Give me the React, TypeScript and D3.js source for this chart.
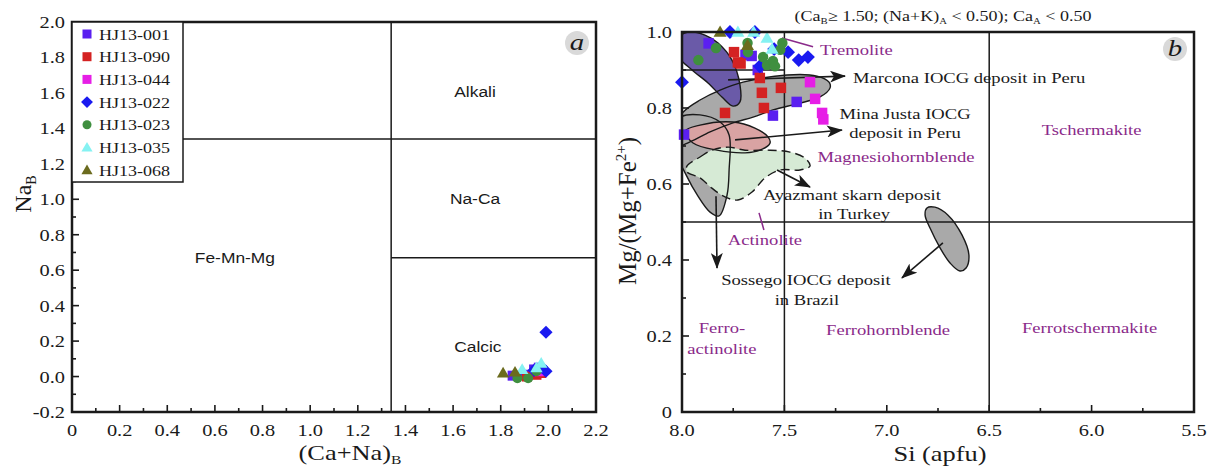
import React from 'react';
import * as d3 from 'd3';

const SX = 1.2; // the source figure is stretched a little horizontally
const SERIF = '"Liberation Serif", "Times New Roman", serif';
const SANS = '"Liberation Sans", Arial, sans-serif';
const INK = '#1a1a1a';
const PURPLE = '#8a2a8a';

// samples / legend
const samples = ['HJ13-001', 'HJ13-090', 'HJ13-044', 'HJ13-022', 'HJ13-023', 'HJ13-035', 'HJ13-068'];
const sampleColors = ['#5b1ff0', '#d42222', '#e61ee6', '#1a1af0', '#3f8f3f', '#85f2f2', '#6b6b1e'];
const sampleShapes = ['square', 'square', 'square', 'diamond', 'circle', 'triangle', 'triangle'];

// panel a: (Ca+Na)B vs NaB
const a001 = [[1.85, 0.005], [1.9, 0.01], [1.94, 0.04], [1.96, 0.05]];
const a090 = [[1.91, 0.0], [1.95, 0.01], [1.97, 0.02]];
const a044 = [[1.96, 0.03]];
const a022 = [[1.99, 0.25], [1.99, 0.03], [1.94, 0.035], [1.97, 0.055]];
const a023 = [[1.87, -0.01], [1.915, -0.01], [1.95, 0.03]];
const a035 = [[1.89, 0.04], [1.97, 0.075], [1.95, 0.05]];
const a068 = [[1.81, 0.02], [1.86, 0.025]];
const panelA = [a001, a090, a044, a022, a023, a035, a068];

// panel b: Si vs Mg/(Mg+Fe2+)
const b001 = [[7.87, 0.97], [7.69, 0.94], [7.66, 0.937], [7.63, 0.9], [7.44, 0.816], [7.556, 0.78], [7.99, 0.73]];
const b090 = [[7.746, 0.947], [7.727, 0.92], [7.714, 0.917], [7.62, 0.879], [7.61, 0.84], [7.517, 0.853], [7.6, 0.8], [7.79, 0.787]];
const b044 = [[7.375, 0.868], [7.35, 0.824], [7.316, 0.787], [7.31, 0.77]];
const b022 = [[7.766, 1.0], [7.644, 1.0], [7.482, 0.947], [7.43, 0.926], [7.385, 0.934], [8.0, 0.868], [7.55, 0.955], [7.62, 0.91]];
const b023 = [[7.834, 0.958], [7.92, 0.926], [7.68, 0.971], [7.678, 0.947], [7.604, 0.934], [7.585, 0.913], [7.556, 0.924], [7.546, 0.91], [7.52, 0.953], [7.51, 0.971]];
const b035 = [[7.727, 1.0], [7.65, 1.0], [7.585, 0.984], [7.56, 0.955]];
const b068 = [[7.814, 1.0], [7.68, 0.965]];
const panelB = [b001, b090, b044, b022, b023, b035, b068];

// classification boundaries
const aLines = [[[1.34, -0.2], [1.34, 2.0]], [[0, 1.34], [2.2, 1.34]], [[1.34, 0.67], [2.2, 0.67]]];
const bLines = [[[7.5, 0], [7.5, 1]], [[6.5, 0], [6.5, 1]], [[8, 0.5], [5.5, 0.5]], [[8, 0.9], [7.5, 0.9]]];

// deposit fields (outlines in Si / Mg# units)
const marconaField = [[8.083, 0.716], [7.995, 0.789], [7.912, 0.821], [7.814, 0.847], [7.702, 0.868], [7.487, 0.887], [7.341, 0.884], [7.282, 0.868], [7.277, 0.853], [7.326, 0.829], [7.424, 0.813], [7.556, 0.795], [7.653, 0.776], [7.751, 0.761], [7.863, 0.737], [7.961, 0.711], [8.049, 0.695]];
const sossegoField = [[8.01, 0.774], [7.912, 0.782], [7.814, 0.763], [7.77, 0.729], [7.77, 0.637], [7.78, 0.571], [7.819, 0.516], [7.863, 0.526], [7.922, 0.568], [7.98, 0.624], [8.029, 0.689]];
const sossegoField2 = [[6.804, 0.537], [6.765, 0.539], [6.701, 0.518], [6.633, 0.466], [6.599, 0.413], [6.613, 0.379], [6.643, 0.371], [6.691, 0.392], [6.74, 0.432], [6.789, 0.484], [6.813, 0.518]];
const tremoliteField = [[8.029, 0.979], [7.971, 1.0], [7.888, 0.992], [7.824, 0.971], [7.756, 0.926], [7.717, 0.861], [7.717, 0.816], [7.751, 0.805], [7.805, 0.829], [7.873, 0.866], [7.951, 0.9], [8.02, 0.937]];
const minaJustaField = [[7.985, 0.739], [7.912, 0.755], [7.751, 0.763], [7.644, 0.747], [7.58, 0.724], [7.57, 0.708], [7.619, 0.689], [7.692, 0.682], [7.829, 0.689], [7.946, 0.708]];
const ayazmantField = [[7.976, 0.647], [7.912, 0.671], [7.854, 0.689], [7.775, 0.697], [7.692, 0.689], [7.57, 0.689], [7.473, 0.684], [7.399, 0.668], [7.375, 0.647], [7.424, 0.637], [7.521, 0.637], [7.595, 0.616], [7.658, 0.579], [7.727, 0.558], [7.79, 0.566], [7.854, 0.589], [7.912, 0.616], [7.976, 0.632]];

const arrows = [
  [[7.775, 0.874], [7.204, 0.884]],
  [[7.741, 0.716], [7.219, 0.742]],
  [[7.536, 0.637], [7.375, 0.592]],
  [[7.834, 0.568], [7.829, 0.379]],
  [[6.726, 0.445], [6.926, 0.353]],
];
const purpleTicks = [[[7.512, 0.984], [7.36, 0.961]], [[7.624, 0.524], [7.6, 0.479]]];

const aLabels = [
  { t: 'Alkali', x: 1.692, y: 1.577 },
  { t: 'Na-Ca', x: 1.692, y: 0.973 },
  { t: 'Fe-Mn-Mg', x: 0.684, y: 0.64 },
  { t: 'Calcic', x: 1.704, y: 0.139 },
];
const bPurpleLabels = [
  { t: 'Tremolite', x: 7.326, y: 0.939, a: 'start' },
  { t: 'Tschermakite', x: 6.0, y: 0.729, a: 'middle' },
  { t: 'Magnesiohornblende', x: 6.955, y: 0.658, a: 'middle' },
  { t: 'Actinolite', x: 7.595, y: 0.439, a: 'middle' },
  { t: 'Ferro-', x: 7.805, y: 0.208, a: 'middle' },
  { t: 'actinolite', x: 7.805, y: 0.153, a: 'middle' },
  { t: 'Ferrohornblende', x: 6.994, y: 0.203, a: 'middle' },
  { t: 'Ferrotschermakite', x: 6.01, y: 0.208, a: 'middle' },
];
const bBlackLabels = [
  { t: 'Marcona IOCG deposit in Peru', x: 7.165, y: 0.866, a: 'start' },
  { t: 'Mina Justa IOCG', x: 6.911, y: 0.771, a: 'middle' },
  { t: 'deposit in Peru', x: 6.911, y: 0.721, a: 'middle' },
  { t: 'Ayazmant skarn deposit', x: 7.17, y: 0.558, a: 'middle' },
  { t: 'in Turkey', x: 7.16, y: 0.508, a: 'middle' },
  { t: 'Sossego IOCG deposit', x: 7.395, y: 0.334, a: 'middle' },
  { t: 'in Brazil', x: 7.39, y: 0.282, a: 'middle' },
];

const xA = d3.scaleLinear().domain([0, 2.2]).range([72, 596]);
const yA = d3.scaleLinear().domain([-0.2, 2.0]).range([412, 22]);
const xB = d3.scaleLinear().domain([8.0, 5.5]).range([682, 1194]);
const yB = d3.scaleLinear().domain([0, 1]).range([412, 32]);

function T({ x, y, children, anchor = 'middle', size = 16, fill = INK, family = SERIF, italic = false }: any) {
  return (
    <text transform={`translate(${x},${y}) scale(${SX},1)`} textAnchor={anchor} fontSize={size}
      fill={fill} fontFamily={family} fontStyle={italic ? 'italic' : 'normal'}>{children}</text>
  );
}

function Mark({ shape, x, y, color, s }: any) {
  if (shape === 'square') return <rect x={x - s / 2} y={y - s / 2} width={s} height={s} fill={color} />;
  if (shape === 'circle') return <circle cx={x} cy={y} r={s / 2} fill={color} />;
  if (shape === 'diamond') {
    const r = s * 0.66;
    return <path d={`M${x},${y - r}L${x + r},${y}L${x},${y + r}L${x - r},${y}Z`} fill={color} />;
  }
  const r = s * 0.62;
  return <path d={`M${x},${y - r}L${x + r},${y + r * 0.72}L${x - r},${y + r * 0.72}Z`} fill={color} />;
}

function Ticks({ xs, ys, xVals, yVals, xMajor, yMajor, xFmt, yFmt, xLabelX }: any) {
  const [y0] = ys.range();
  const [x0] = xs.range();
  return (
    <g>
      {xVals.map((v: number, i: number) => {
        const major = xMajor(i);
        return (
          <g key={'x' + i}>
            <line x1={xs(v)} x2={xs(v)} y1={y0} y2={y0 - (major ? 7 : 4)} stroke={INK} strokeWidth={1.6} />
            {major && <T x={xs(v)} y={436} size={17}>{xFmt(v)}</T>}
          </g>
        );
      })}
      {yVals.map((v: number, i: number) => {
        const major = yMajor(i);
        return (
          <g key={'y' + i}>
            <line x1={x0} x2={x0 + (major ? 7 : 4)} y1={ys(v)} y2={ys(v)} stroke={INK} strokeWidth={1.6} />
            {major && <T x={xLabelX} y={ys(v) + 6} size={17} anchor="end">{yFmt(v)}</T>}
          </g>
        );
      })}
    </g>
  );
}

export default function App() {
  const fieldLine = d3.line<number[]>()
    .x(d => xB(d[0]))
    .y(d => yB(d[1]))
    .curve(d3.curveCatmullRomClosed.alpha(0.5));

  const fields = [
    { d: marconaField, fill: '#a9a9a9', dash: undefined },
    { d: sossegoField, fill: '#a9a9a9', dash: undefined },
    { d: tremoliteField, fill: '#6a5aa8', dash: undefined },
    { d: minaJustaField, fill: '#d9a3a3', dash: undefined },
    { d: ayazmantField, fill: '#d6ead5', dash: '9 5' },
    { d: sossegoField2, fill: '#a9a9a9', dash: undefined },
  ];

  const aXTicks = d3.range(0, 23).map(i => i / 10);
  const aYTicks = d3.range(-2, 21).map(i => i / 10);
  const bXTicks = d3.range(0, 11).map(i => 8 - i * 0.25);
  const bYTicks = d3.range(0, 11).map(i => i / 10);

  const legendRows = samples.map((_, i) => 34 + i * 22.7);

  return (
    <svg width={1210} height={470} style={{ position: 'absolute', left: 0, top: 0, background: '#fff' }}>
      <defs>
        <clipPath id="clipB">
          <rect x={682} y={32} width={512} height={380} />
        </clipPath>
        <marker id="arrowHead" viewBox="0 0 16 12" refX={15} refY={6} markerWidth={16} markerHeight={12}
          markerUnits="userSpaceOnUse" orient="auto">
          <path d="M0,0L16,6L0,12L4,6Z" fill={INK} />
        </marker>
      </defs>

      {/* ---------- panel a ---------- */}
      {aLines.map((l, i) => (
        <line key={i} x1={xA(l[0][0])} y1={yA(l[0][1])} x2={xA(l[1][0])} y2={yA(l[1][1])} stroke={INK} strokeWidth={1.5} />
      ))}
      {aLabels.map(l => (
        <T key={l.t} x={xA(l.x)} y={yA(l.y)} size={14.5} family={SANS}>{l.t}</T>
      ))}
      {panelA.map((pts, si) => pts.map((p, j) => (
        <Mark key={si + '-' + j} shape={sampleShapes[si]} x={xA(p[0])} y={yA(p[1])} color={sampleColors[si]} s={10} />
      )))}
      <rect x={72} y={22} width={524} height={390} fill="none" stroke={INK} strokeWidth={2.5} />
      <Ticks xs={xA} ys={yA} xVals={aXTicks} yVals={aYTicks}
        xMajor={(i: number) => i % 2 === 0} yMajor={(i: number) => i % 2 === 0}
        xFmt={(v: number) => (v === 0 ? '0' : v.toFixed(1))} yFmt={(v: number) => v.toFixed(1)} xLabelX={65} />

      {/* legend */}
      <rect x={72} y={22} width={111} height={160} fill="#fff" stroke={INK} strokeWidth={1.5} />
      {samples.map((s, i) => (
        <g key={s}>
          <Mark shape={sampleShapes[i]} x={87} y={legendRows[i]} color={sampleColors[i]} s={9} />
          <T x={99} y={legendRows[i] + 5.5} size={15} anchor="start">{s}</T>
        </g>
      ))}
      <circle cx={577} cy={43} r={12} fill="#d9d9d9" />
      <T x={577} y={50} size={24} italic>a</T>

      {/* axis titles a */}
      <text transform="translate(31,194) rotate(-90)" textAnchor="middle" fontSize={24} fontFamily={SERIF} fill={INK}>
        Na<tspan fontSize={14} dy={5}>B</tspan>
      </text>
      <text transform={`translate(350,460) scale(${SX},1)`} textAnchor="middle" fontSize={22} fontFamily={SERIF} fill={INK}>
        (Ca+Na)<tspan fontSize={13} dy={4}>B</tspan>
      </text>

      {/* ---------- panel b ---------- */}
      <g clipPath="url(#clipB)">
        {fields.map((f, i) => (
          <path key={'f' + i} d={fieldLine(f.d) || ''} fill={f.fill} stroke="none" />
        ))}
        {fields.map((f, i) => (
          <path key={'s' + i} d={fieldLine(f.d) || ''} fill="none" stroke={INK} strokeWidth={1.4} strokeDasharray={f.dash} />
        ))}
      </g>
      {bLines.map((l, i) => (
        <line key={i} x1={xB(l[0][0])} y1={yB(l[0][1])} x2={xB(l[1][0])} y2={yB(l[1][1])} stroke={INK} strokeWidth={1.5} />
      ))}
      {arrows.map((a, i) => (
        <line key={'a' + i} x1={xB(a[0][0])} y1={yB(a[0][1])} x2={xB(a[1][0])} y2={yB(a[1][1])}
          stroke={INK} strokeWidth={1.6} markerEnd="url(#arrowHead)" />
      ))}
      {purpleTicks.map((a, i) => (
        <line key={'p' + i} x1={xB(a[0][0])} y1={yB(a[0][1])} x2={xB(a[1][0])} y2={yB(a[1][1])} stroke={PURPLE} strokeWidth={1.5} />
      ))}
      {bPurpleLabels.map(l => (
        <T key={l.t} x={xB(l.x)} y={yB(l.y)} size={15.5} anchor={l.a} fill={PURPLE}>{l.t}</T>
      ))}
      {bBlackLabels.map(l => (
        <T key={l.t} x={xB(l.x)} y={yB(l.y)} size={15.5} anchor={l.a}>{l.t}</T>
      ))}
      {panelB.map((pts, si) => pts.map((p, j) => (
        <Mark key={si + '-' + j} shape={sampleShapes[si]} x={xB(p[0])} y={yB(p[1])} color={sampleColors[si]} s={10.5} />
      )))}
      <rect x={682} y={32} width={512} height={380} fill="none" stroke={INK} strokeWidth={2.5} />
      <Ticks xs={xB} ys={yB} xVals={bXTicks} yVals={bYTicks}
        xMajor={(i: number) => i % 2 === 0} yMajor={(i: number) => i % 2 === 0}
        xFmt={(v: number) => v.toFixed(1)} yFmt={(v: number) => (v === 0 ? '0' : v.toFixed(1))} xLabelX={672} />
      <circle cx={1175} cy={49} r={12} fill="#d9d9d9" />
      <T x={1175} y={56} size={24} italic>b</T>

      {/* title b */}
      <text transform={`translate(943,21) scale(${SX},1)`} textAnchor="middle" fontSize={15} fontFamily={SERIF} fill={INK}>
        (Ca<tspan fontSize={9} dy={3}>B</tspan><tspan dy={-3}>≥ 1.50; (Na+K)</tspan><tspan fontSize={9} dy={3}>A</tspan>
        <tspan dy={-3}> &lt; 0.50); Ca</tspan><tspan fontSize={9} dy={3}>A</tspan><tspan dy={-3}> &lt; 0.50</tspan>
      </text>

      {/* axis titles b */}
      <text transform="translate(636,211) rotate(-90)" textAnchor="middle" fontSize={25} fontFamily={SERIF} fill={INK}>
        Mg/(Mg+Fe<tspan fontSize={15} dy={-10}>2+</tspan><tspan dy={10}>)</tspan>
      </text>
      <text transform={`translate(940,461) scale(${SX},1)`} textAnchor="middle" fontSize={22} fontFamily={SERIF} fill={INK}>
        Si (apfu)
      </text>
    </svg>
  );
}
